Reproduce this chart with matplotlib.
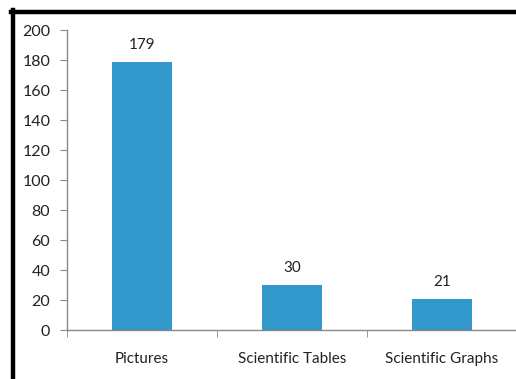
import numpy as np
import matplotlib.pyplot as plt
from matplotlib.lines import Line2D

categories = ['Pictures', 'Scientific Tables', 'Scientific Graphs']
counts = [179, 30, 21]
yticks = [0, 20, 40, 60, 80, 100, 120, 140, 160, 180, 200]

plt.rcParams['font.family'] = ['Lato', 'DejaVu Sans']

W, H = 516, 379
fig = plt.figure(figsize=(W / 100, H / 100), dpi=100)
fig.patch.set_facecolor('white')

ax = fig.add_axes([67 / W, (H - 330) / H, 450 / W, 300 / H])
x = np.arange(len(categories))
ax.bar(x, counts, width=0.4, color='#3399cc', zorder=2)

for xi, v in zip(x, counts):
    ax.annotate(str(v), (xi, v), xytext=(0, 7), textcoords='offset points',
                ha='center', va='bottom', fontsize=11, color='#222222')

ax.set_xlim(-0.5, 2.5)
ax.set_ylim(0, 200)
ax.set_yticks(yticks)
ax.set_xticks(x)
ax.set_xticklabels(categories)
ax.set_xticks([-0.5, 0.5, 1.5, 2.5], minor=True)

for s in ['top', 'right']:
    ax.spines[s].set_visible(False)
for s in ['left', 'bottom']:
    ax.spines[s].set_color('#888888')
    ax.spines[s].set_linewidth(1)

ax.tick_params(axis='y', length=5, color='#888888', labelsize=11.5, labelcolor='#222222', pad=7)
ax.tick_params(axis='x', which='major', length=0, labelsize=11, labelcolor='#222222', pad=16)
ax.tick_params(axis='x', which='minor', length=5, color='#888888')

# black frame along the top and left of the screenshot
fig.add_artist(Line2D([11 / W, 1], [1 - 12 / H, 1 - 12 / H], color='black', lw=3.2,
                      transform=fig.transFigure))
fig.add_artist(Line2D([13 / W, 13 / W], [0, 1 - 10 / H], color='black', lw=3.2,
                      transform=fig.transFigure))

fig.savefig('out.png', dpi=100, facecolor='white')
